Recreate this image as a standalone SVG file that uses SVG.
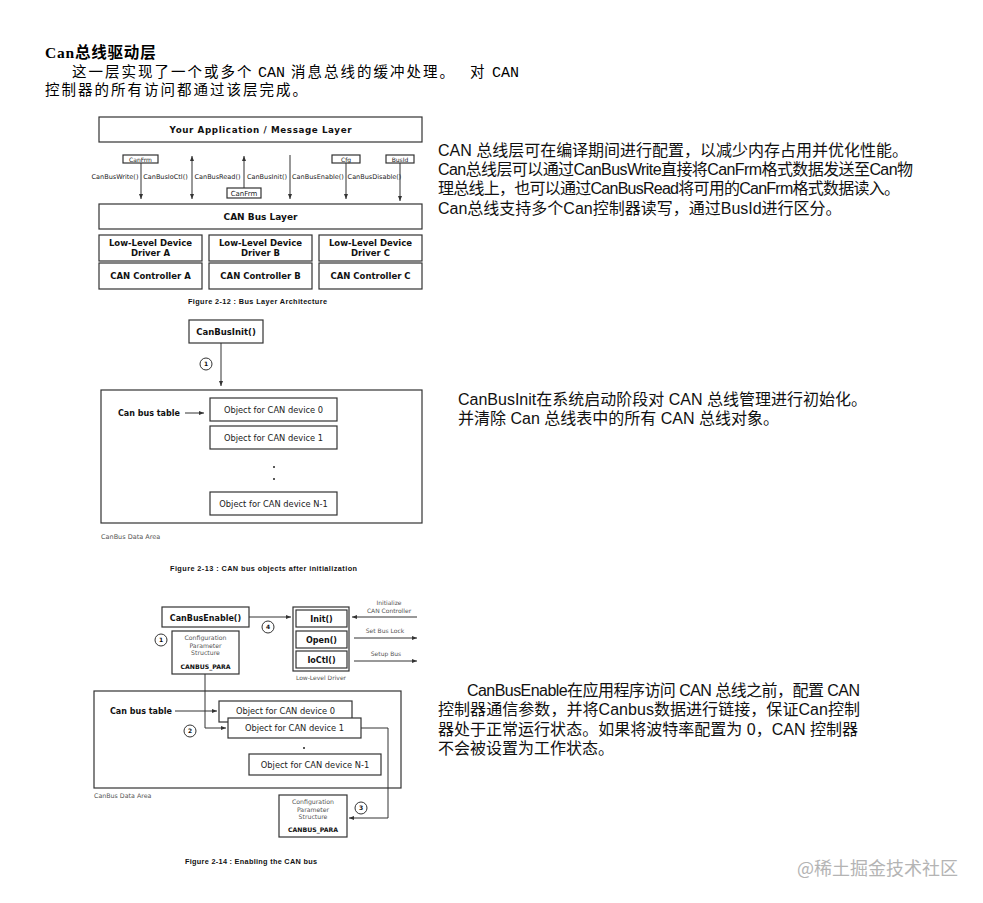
<svg xmlns="http://www.w3.org/2000/svg" width="983" height="903" viewBox="0 0 983 903">
<style>
.body{font-family:"Noto Sans CJK SC",sans-serif;font-size:14.5px;letter-spacing:2px;fill:#000}
.rt{font-family:"Liberation Sans","Noto Sans CJK SC",sans-serif;font-size:16px;fill:#111}
.mono{font-family:"Liberation Mono","Noto Sans CJK SC",monospace;letter-spacing:0}
.box{fill:#fff;stroke:#333;stroke-width:1.2}
.bl{font-family:"DejaVu Sans",sans-serif;font-weight:bold;fill:#111;text-anchor:middle}
.rg{font-family:"DejaVu Sans",sans-serif;fill:#222;text-anchor:middle}
.sm{font-family:"DejaVu Sans",sans-serif;fill:#555}
.cap{font-family:"Liberation Sans",Arial,sans-serif;font-weight:bold;font-size:7.3px;fill:#111}
.ln{fill:none;stroke:#333;stroke-width:1}
.num{font-family:"DejaVu Sans",sans-serif;font-weight:bold;font-size:6px;fill:#111;text-anchor:middle}
</style>
<defs>
<marker id="ah" viewBox="0 0 10 10" refX="10" refY="5" markerWidth="5" markerHeight="5" markerUnits="userSpaceOnUse" orient="auto-start-reverse"><path d="M0,1 L10,5 L0,9 z" fill="#333"/></marker>
</defs>
<rect width="983" height="903" fill="#fff"/>

<!-- Text blocks -->
<g id="heading">
<text x="45" y="58" font-family="Liberation Serif,'Noto Sans CJK SC',serif" font-weight="bold" font-size="15.5" letter-spacing="0.8" fill="#000">Can总线驱动层</text>
<text class="body" y="77"><tspan x="72">这一层实现了一个或多个</tspan><tspan x="258" class="mono" font-size="15">CAN</tspan><tspan x="291">消息总线的缓冲处理。</tspan><tspan x="470">对</tspan><tspan x="492" class="mono" font-size="15">CAN</tspan></text>
<text class="body" x="45" y="95">控制器的所有访问都通过该层完成。</text>
</g>

<g id="text1">
<text class="rt" x="438" y="156" textLength="470">CAN 总线层可在编译期间进行配置，以减少内存占用并优化性能。</text>
<text class="rt" x="438" y="175" textLength="475">Can总线层可以通过CanBusWrite直接将CanFrm格式数据发送至Can物</text>
<text class="rt" x="438" y="194" textLength="462">理总线上，也可以通过CanBusRead将可用的CanFrm格式数据读入。</text>
<text class="rt" x="438" y="214">Can总线支持多个Can控制器读写，通过BusId进行区分。</text>
</g>

<g id="text2">
<text class="rt" x="458" y="405">CanBusInit在系统启动阶段对 CAN 总线管理进行初始化。</text>
<text class="rt" x="458" y="424">并清除 Can 总线表中的所有 CAN 总线对象。</text>
</g>

<g id="text3">
<text class="rt" x="467" y="696" textLength="393">CanBusEnable在应用程序访问 CAN 总线之前，配置 CAN</text>
<text class="rt" x="438" y="715" textLength="422">控制器通信参数，并将Canbus数据进行链接，保证Can控制</text>
<text class="rt" x="438" y="735" textLength="420">器处于正常运行状态。如果将波特率配置为 0，CAN 控制器</text>
<text class="rt" x="438" y="754">不会被设置为工作状态。</text>
</g>

<text x="797" y="875" font-family="'Noto Sans CJK SC',sans-serif" font-size="18" fill="#b4b4b4">@稀土掘金技术社区</text>

<!-- Figure 2-12 -->
<g id="fig12-app"><rect class="box" x="99" y="117" width="323" height="25"/><text class="bl" x="260.5" y="133" font-size="8.75" textLength="182">Your Application / Message Layer</text></g>
<g id="fig12-canfrm1"><rect class="box" x="123" y="155" width="35" height="8" stroke-width="0.8"/><text class="rg" x="140.5" y="161.5" font-size="6" fill="#444">CanFrm</text></g>
<g id="fig12-canfrm2"><rect class="box" x="227" y="188" width="34" height="10" stroke-width="0.8"/><text class="rg" x="244" y="195.5" font-size="7">CanFrm</text></g>
<g id="fig12-cfg"><rect class="box" x="332" y="155" width="28" height="8" stroke-width="0.8"/><text class="rg" x="346" y="161.5" font-size="6" fill="#444">Cfg</text></g>
<g id="fig12-busid"><rect class="box" x="386" y="155" width="28" height="8" stroke-width="0.8"/><text class="rg" x="400" y="161.5" font-size="6" fill="#444">BusId</text></g>
<g id="fig12-buslayer"><rect class="box" x="99" y="204" width="323" height="25"/><text class="bl" x="260.5" y="220" font-size="9">CAN Bus Layer</text></g>
<g id="fig12-drvA"><rect class="box" x="99" y="235" width="103" height="26"/><text class="bl" x="150.5" y="246" font-size="8.5">Low-Level Device</text><text class="bl" x="150.5" y="256" font-size="8.5">Driver A</text></g>
<g id="fig12-drvB"><rect class="box" x="209" y="235" width="103" height="26"/><text class="bl" x="260.5" y="246" font-size="8.5">Low-Level Device</text><text class="bl" x="260.5" y="256" font-size="8.5">Driver B</text></g>
<g id="fig12-drvC"><rect class="box" x="319" y="235" width="103" height="26"/><text class="bl" x="370.5" y="246" font-size="8.5">Low-Level Device</text><text class="bl" x="370.5" y="256" font-size="8.5">Driver C</text></g>
<g id="fig12-ctlA"><rect class="box" x="99" y="263" width="103" height="26"/><text class="bl" x="150.5" y="279" font-size="8.5">CAN Controller A</text></g>
<g id="fig12-ctlB"><rect class="box" x="209" y="263" width="103" height="26"/><text class="bl" x="260.5" y="279" font-size="8.5">CAN Controller B</text></g>
<g id="fig12-ctlC"><rect class="box" x="319" y="263" width="103" height="26"/><text class="bl" x="370.5" y="279" font-size="8.5">CAN Controller C</text></g>
<g id="fig12-labels" class="rg" font-size="6.5">
<text x="115" y="178.5">CanBusWrite()</text>
<text x="165.5" y="178.5">CanBusIoCtl()</text>
<text x="217.5" y="178.5">CanBusRead()</text>
<text x="267" y="178.5">CanBusInit()</text>
<text x="318" y="178.5">CanBusEnable()</text>
<text x="374.5" y="178.5">CanBusDisable()</text>
</g>
<text class="cap" x="188" y="304" textLength="139">Figure 2-12 : Bus Layer Architecture</text>

<!-- Figure 2-13 -->
<g id="fig13-init"><rect class="box" x="189" y="320" width="74" height="23"/><text class="bl" x="226" y="335" font-size="8.5">CanBusInit()</text></g>
<g id="fig13-area"><rect class="box" x="101" y="390" width="321" height="133"/><text class="sm" x="101" y="539" font-size="6.5">CanBus Data Area</text></g>
<g id="fig13-table"><text class="bl" x="118" y="416" font-size="8" style="text-anchor:start">Can bus table</text></g>
<g id="fig13-obj0"><rect class="box" x="210" y="398" width="127" height="23"/><text class="rg" x="273.5" y="412.5" font-size="8.3">Object for CAN device 0</text></g>
<g id="fig13-obj1"><rect class="box" x="210" y="426" width="127" height="23"/><text class="rg" x="273.5" y="440.5" font-size="8.3">Object for CAN device 1</text></g>
<g id="fig13-dots"><circle cx="274" cy="467" r="1" fill="#222"/><circle cx="274" cy="479" r="1" fill="#222"/></g>
<g id="fig13-objN"><rect class="box" x="210" y="492" width="127" height="23"/><text class="rg" x="273.5" y="506.5" font-size="8.3">Object for CAN device N-1</text></g>
<g id="fig13-c1"><circle cx="206" cy="364" r="6" fill="#fff" stroke="#333" stroke-width="1"/><text class="num" x="206" y="366.2">1</text></g>
<text class="cap" x="170" y="571" textLength="187">Figure 2-13 : CAN bus objects after initialization</text>

<!-- Figure 2-14 -->
<g id="fig14-enable"><rect class="box" x="162" y="607" width="87" height="20"/><text class="bl" x="205.5" y="620.5" font-size="8">CanBusEnable()</text></g>
<g id="fig14-cfg1"><rect class="box" x="172" y="631" width="67" height="43"/>
<text class="sm" x="205.5" y="640" font-size="6.2" text-anchor="middle">Configuration</text>
<text class="sm" x="205.5" y="647.5" font-size="6.2" text-anchor="middle">Parameter</text>
<text class="sm" x="205.5" y="655" font-size="6.2" text-anchor="middle">Structure</text>
<text class="bl" x="205.5" y="668.5" font-size="6.2">CANBUS_PARA</text></g>
<g id="fig14-driver"><rect class="box" x="293" y="607" width="56" height="64"/>
<rect class="box" x="296" y="610" width="51" height="17"/><text class="bl" x="321.5" y="621.5" font-size="8">Init()</text>
<rect class="box" x="296" y="631" width="51" height="17"/><text class="bl" x="321.5" y="642.5" font-size="8">Open()</text>
<rect class="box" x="296" y="651" width="51" height="17"/><text class="bl" x="321.5" y="662.5" font-size="8">IoCtl()</text>
<text class="sm" x="321" y="680" font-size="6" text-anchor="middle">Low-Level Driver</text></g>
<g id="fig14-side" class="sm" font-size="6" text-anchor="middle">
<text x="389" y="605">Initialize</text>
<text x="389" y="612.5">CAN Controller</text>
<text x="385" y="633">Set Bus Lock</text>
<text x="386" y="656">Setup Bus</text>
</g>
<g id="fig14-area"><rect class="box" x="94" y="691" width="307" height="97"/><text class="sm" x="94" y="798" font-size="6.3">CanBus Data Area</text></g>
<g id="fig14-table"><text class="bl" x="110" y="714" font-size="8" style="text-anchor:start">Can bus table</text></g>
<g id="fig14-obj0"><rect class="box" x="219" y="701" width="133" height="21"/><text class="rg" x="285.5" y="713.5" font-size="8.3">Object for CAN device 0</text></g>
<g id="fig14-obj1"><rect class="box" x="228" y="718" width="133" height="20"/><text class="rg" x="294.5" y="730.5" font-size="8.3">Object for CAN device 1</text></g>
<g id="fig14-dot"><circle cx="304" cy="748" r="1" fill="#222"/></g>
<g id="fig14-objN"><rect class="box" x="249" y="754" width="132" height="21"/><text class="rg" x="315" y="767.5" font-size="8.3">Object for CAN device N-1</text></g>
<g id="fig14-cfg2"><rect class="box" x="279" y="795" width="68" height="42"/>
<text class="sm" x="313" y="804" font-size="6.2" text-anchor="middle">Configuration</text>
<text class="sm" x="313" y="811.5" font-size="6.2" text-anchor="middle">Parameter</text>
<text class="sm" x="313" y="819" font-size="6.2" text-anchor="middle">Structure</text>
<text class="bl" x="313" y="832" font-size="6.2">CANBUS_PARA</text></g>
<g id="fig14-circles">
<circle cx="161" cy="640" r="6" fill="#fff" stroke="#333"/><text class="num" x="161" y="642.2">1</text>
<circle cx="190" cy="731" r="6" fill="#fff" stroke="#333"/><text class="num" x="190" y="733.2">2</text>
<circle cx="361" cy="808" r="6" fill="#fff" stroke="#333"/><text class="num" x="361" y="810.2">3</text>
<circle cx="268" cy="627" r="6" fill="#fff" stroke="#333"/><text class="num" x="268" y="629.2">4</text>
</g>
<text class="cap" x="185" y="864" font-size="7.5" textLength="132">Figure 2-14 : Enabling the CAN bus</text>

<!-- Connectors -->
<g id="connectors" class="ln">
<line x1="141" y1="163" x2="141" y2="199" marker-end="url(#ah)"/>
<line x1="192" y1="156" x2="192" y2="199" marker-start="url(#ah)" marker-end="url(#ah)"/>
<line x1="244" y1="188" x2="244" y2="156" marker-end="url(#ah)"/>
<line x1="290" y1="155" x2="290" y2="199" marker-end="url(#ah)"/>
<line x1="346" y1="163" x2="346" y2="199" marker-end="url(#ah)"/>
<line x1="400" y1="163" x2="400" y2="201" marker-end="url(#ah)"/>
<line x1="221" y1="343" x2="221" y2="386" marker-end="url(#ah)"/>
<line x1="185" y1="413" x2="204" y2="413" marker-end="url(#ah)"/>
<line x1="249" y1="617" x2="291" y2="617" marker-end="url(#ah)"/>
<line x1="417" y1="617" x2="352" y2="617" marker-end="url(#ah)"/>
<line x1="354" y1="638" x2="417" y2="638" marker-end="url(#ah)"/>
<line x1="354" y1="661" x2="417" y2="661" marker-end="url(#ah)"/>
<line x1="175" y1="711" x2="217" y2="711" marker-end="url(#ah)"/>
<polyline points="205,674 205,728 226,728" marker-end="url(#ah)"/>
<polyline points="361,728 388,728 388,818 349,818" marker-end="url(#ah)"/>
</g>
</svg>
